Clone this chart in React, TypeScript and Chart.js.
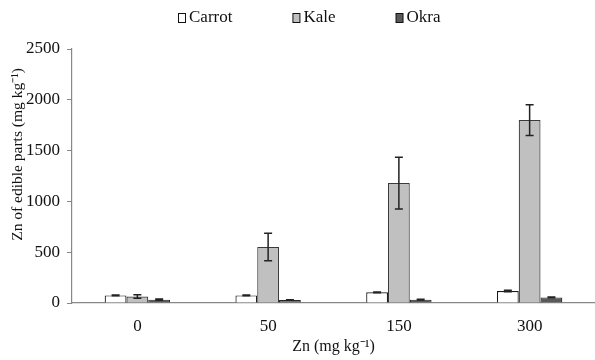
import React, { useEffect, useRef } from "react";
import { Chart, registerables } from "chart.js";

Chart.register(...registerables);

const categories = ["0", "50", "150", "300"];
const seriesNames = ["Carrot", "Kale", "Okra"];
const carrot = [75, 75, 105, 118];
const kale = [64, 552, 1180, 1800];
const okra = [33, 30, 33, 55];
const carrotErr = [4, 4, 4, 8];
const kaleErr = [18, 135, 255, 152];
const okraErr = [7, 3, 4, 3];
const yTicks = [0, 500, 1000, 1500, 2000, 2500];
const yTitle = "Zn of edible parts (mg kg⁻¹)";
const xTitle = "Zn (mg kg⁻¹)";

const fills = ["#ffffff", "#c0c0c0", "#595959"];
const borders = ["#1a1a1a", "#3a3a3a", "#262626"];
const FONT = "'Liberation Serif', 'Times New Roman', serif";

const errorBars = {
  id: "errorBars",
  afterDatasetsDraw(chart: any) {
    const ctx = chart.ctx;
    const y = chart.scales.y;
    chart.data.datasets.forEach((ds: any, i: number) => {
      const meta = chart.getDatasetMeta(i);
      meta.data.forEach((bar: any, j: number) => {
        const v = ds.data[j];
        const e = ds.errors[j];
        const top = y.getPixelForValue(v + e);
        const bot = y.getPixelForValue(v - e);
        ctx.save();
        ctx.strokeStyle = "#222";
        ctx.lineWidth = 1.5;
        ctx.beginPath();
        ctx.moveTo(bar.x, top);
        ctx.lineTo(bar.x, bot);
        ctx.moveTo(bar.x - 4, top);
        ctx.lineTo(bar.x + 4, top);
        ctx.moveTo(bar.x - 4, bot);
        ctx.lineTo(bar.x + 4, bot);
        ctx.stroke();
        ctx.restore();
      });
    });
  },
};

const customLegend = {
  id: "customLegend",
  afterDraw(chart: any) {
    const ctx = chart.ctx;
    ctx.save();
    ctx.font = `17px ${FONT}`;
    ctx.textBaseline = "middle";
    let x = 178;
    const cy = 18;
    chart.data.datasets.forEach((ds: any) => {
      ctx.fillStyle = ds.backgroundColor;
      ctx.strokeStyle = "#111";
      ctx.lineWidth = 1;
      ctx.fillRect(x + 0.5, cy - 4.5, 7, 9);
      ctx.strokeRect(x + 0.5, cy - 4.5, 7, 9);
      ctx.fillStyle = "#111";
      ctx.fillText(ds.label, x + 11, cy);
      x += 11 + ctx.measureText(ds.label).width + 60;
    });
    // rotated y-axis title
    const area = chart.chartArea;
    ctx.translate(18, area.top + area.height * 0.415);
    ctx.rotate(-Math.PI / 2);
    ctx.textAlign = "center";
    ctx.font = `15.5px ${FONT}`;
    ctx.fillText(yTitle, 0, 0);
    ctx.restore();
  },
};

export default function App() {
  const ref = useRef<HTMLCanvasElement>(null);
  useEffect(() => {
    const seriesData = [carrot, kale, okra];
    const seriesErr = [carrotErr, kaleErr, okraErr];
    const chart = new Chart(ref.current as HTMLCanvasElement, {
      type: "bar",
      data: {
        labels: categories,
        datasets: seriesNames.map((name, i) => ({
          label: name,
          data: seriesData[i],
          errors: seriesErr[i],
          backgroundColor: fills[i],
          borderColor: borders[i],
          borderWidth: 1.2,
          categoryPercentage: 0.5,
          barPercentage: 1,
        })) as any,
      },
      options: {
        animation: false,
        responsive: false,
        layout: { padding: { top: 49, right: -4, left: 0, bottom: 0 } },
        plugins: { legend: { display: false }, tooltip: { enabled: false } },
        scales: {
          x: {
            grid: { display: false, drawTicks: false },
            border: { color: "#888", width: 1.2 },
            ticks: { color: "#111", font: { family: FONT, size: 17 }, padding: 13 },
            title: {
              display: true,
              text: xTitle,
              color: "#111",
              font: { family: FONT, size: 16 },
              padding: { top: 0, bottom: 4 },
            },
            afterFit(scale: any) {
              scale.height = 57;
            },
          },
          y: {
            min: 0,
            max: 2500,
            afterBuildTicks(scale: any) {
              scale.ticks = yTicks.map((v) => ({ value: v }));
            },
            grid: { drawOnChartArea: false, drawTicks: true, tickLength: 5, color: "#888" },
            border: { color: "#888", width: 1.2 },
            ticks: {
              color: "#111",
              font: { family: FONT, size: 17 },
              padding: 7,
              callback: (v: any) => String(v),
            },
            afterFit(scale: any) {
              scale.width = 72;
            },
          },
        },
      },
      plugins: [errorBars, customLegend],
    });
    return () => chart.destroy();
  }, []);
  return (
    <div style={{ position: "fixed", left: 0, top: 0, width: 595, height: 360, background: "#fff" }}>
      <canvas ref={ref} width={595} height={360} />
    </div>
  );
}
